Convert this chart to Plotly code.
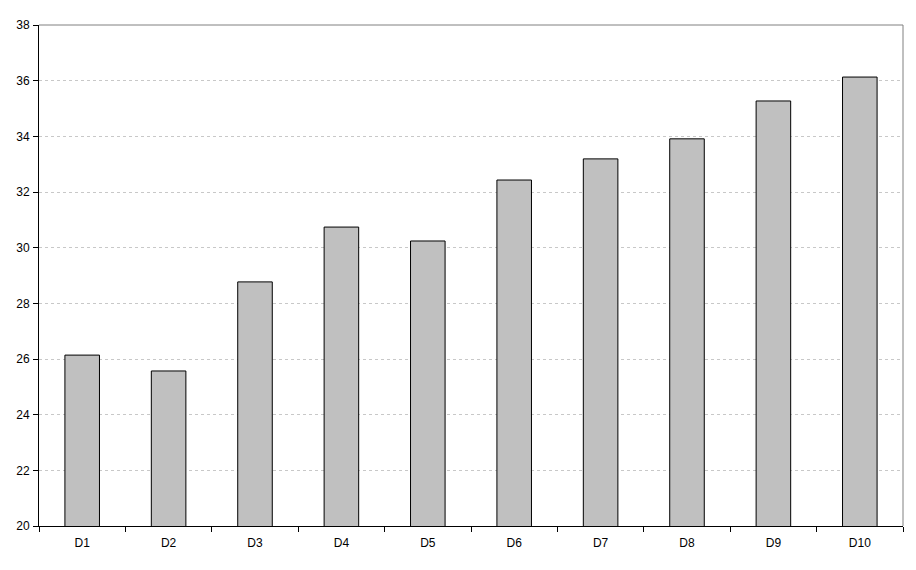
import plotly.graph_objects as go

categories = ['D1', 'D2', 'D3', 'D4', 'D5', 'D6', 'D7', 'D8', 'D9', 'D10']
values = [26.14, 25.57, 28.77, 30.74, 30.24, 32.43, 33.19, 33.91, 35.27, 36.13]

fig = go.Figure()

fig.add_trace(go.Bar(
    x=categories,
    y=values,
    marker=dict(color='#C0C0C0', line=dict(color='#000000', width=1)),
    width=0.4
))

# page body has an 8px margin, so the figure is sized to fit inside it
fig.update_layout(
    width=908,
    height=562,
    margin=dict(l=31, r=13, t=17, b=44),
    plot_bgcolor='white',
    paper_bgcolor='white',
    font=dict(family='Liberation Sans, Arial, sans-serif', size=12, color='#000000'),
    showlegend=False,
    xaxis=dict(
        showline=True, linecolor='#000000', linewidth=1,
        ticks='outside', ticklen=5, tickcolor='#000000',
        tickson='boundaries', showgrid=False, automargin=False,
        range=[-0.5, 9.5], ticklabelstandoff=6
    ),
    yaxis=dict(
        range=[20, 38], dtick=2, automargin=False,
        showline=True, linecolor='#000000', linewidth=1,
        ticks='outside', ticklen=5, tickcolor='#000000',
        showgrid=True, gridcolor='#C8C8C8', griddash='3px,3px', gridwidth=1,
        zeroline=False, ticklabelstandoff=1
    ),
    shapes=[
        dict(type='line', xref='paper', yref='paper', x0=0, x1=1, y0=1, y1=1,
             line=dict(color='#808080', width=1)),
        dict(type='line', xref='paper', yref='paper', x0=1, x1=1, y0=0, y1=1,
             line=dict(color='#808080', width=1)),
    ]
)

fig.write_html("out.html")
